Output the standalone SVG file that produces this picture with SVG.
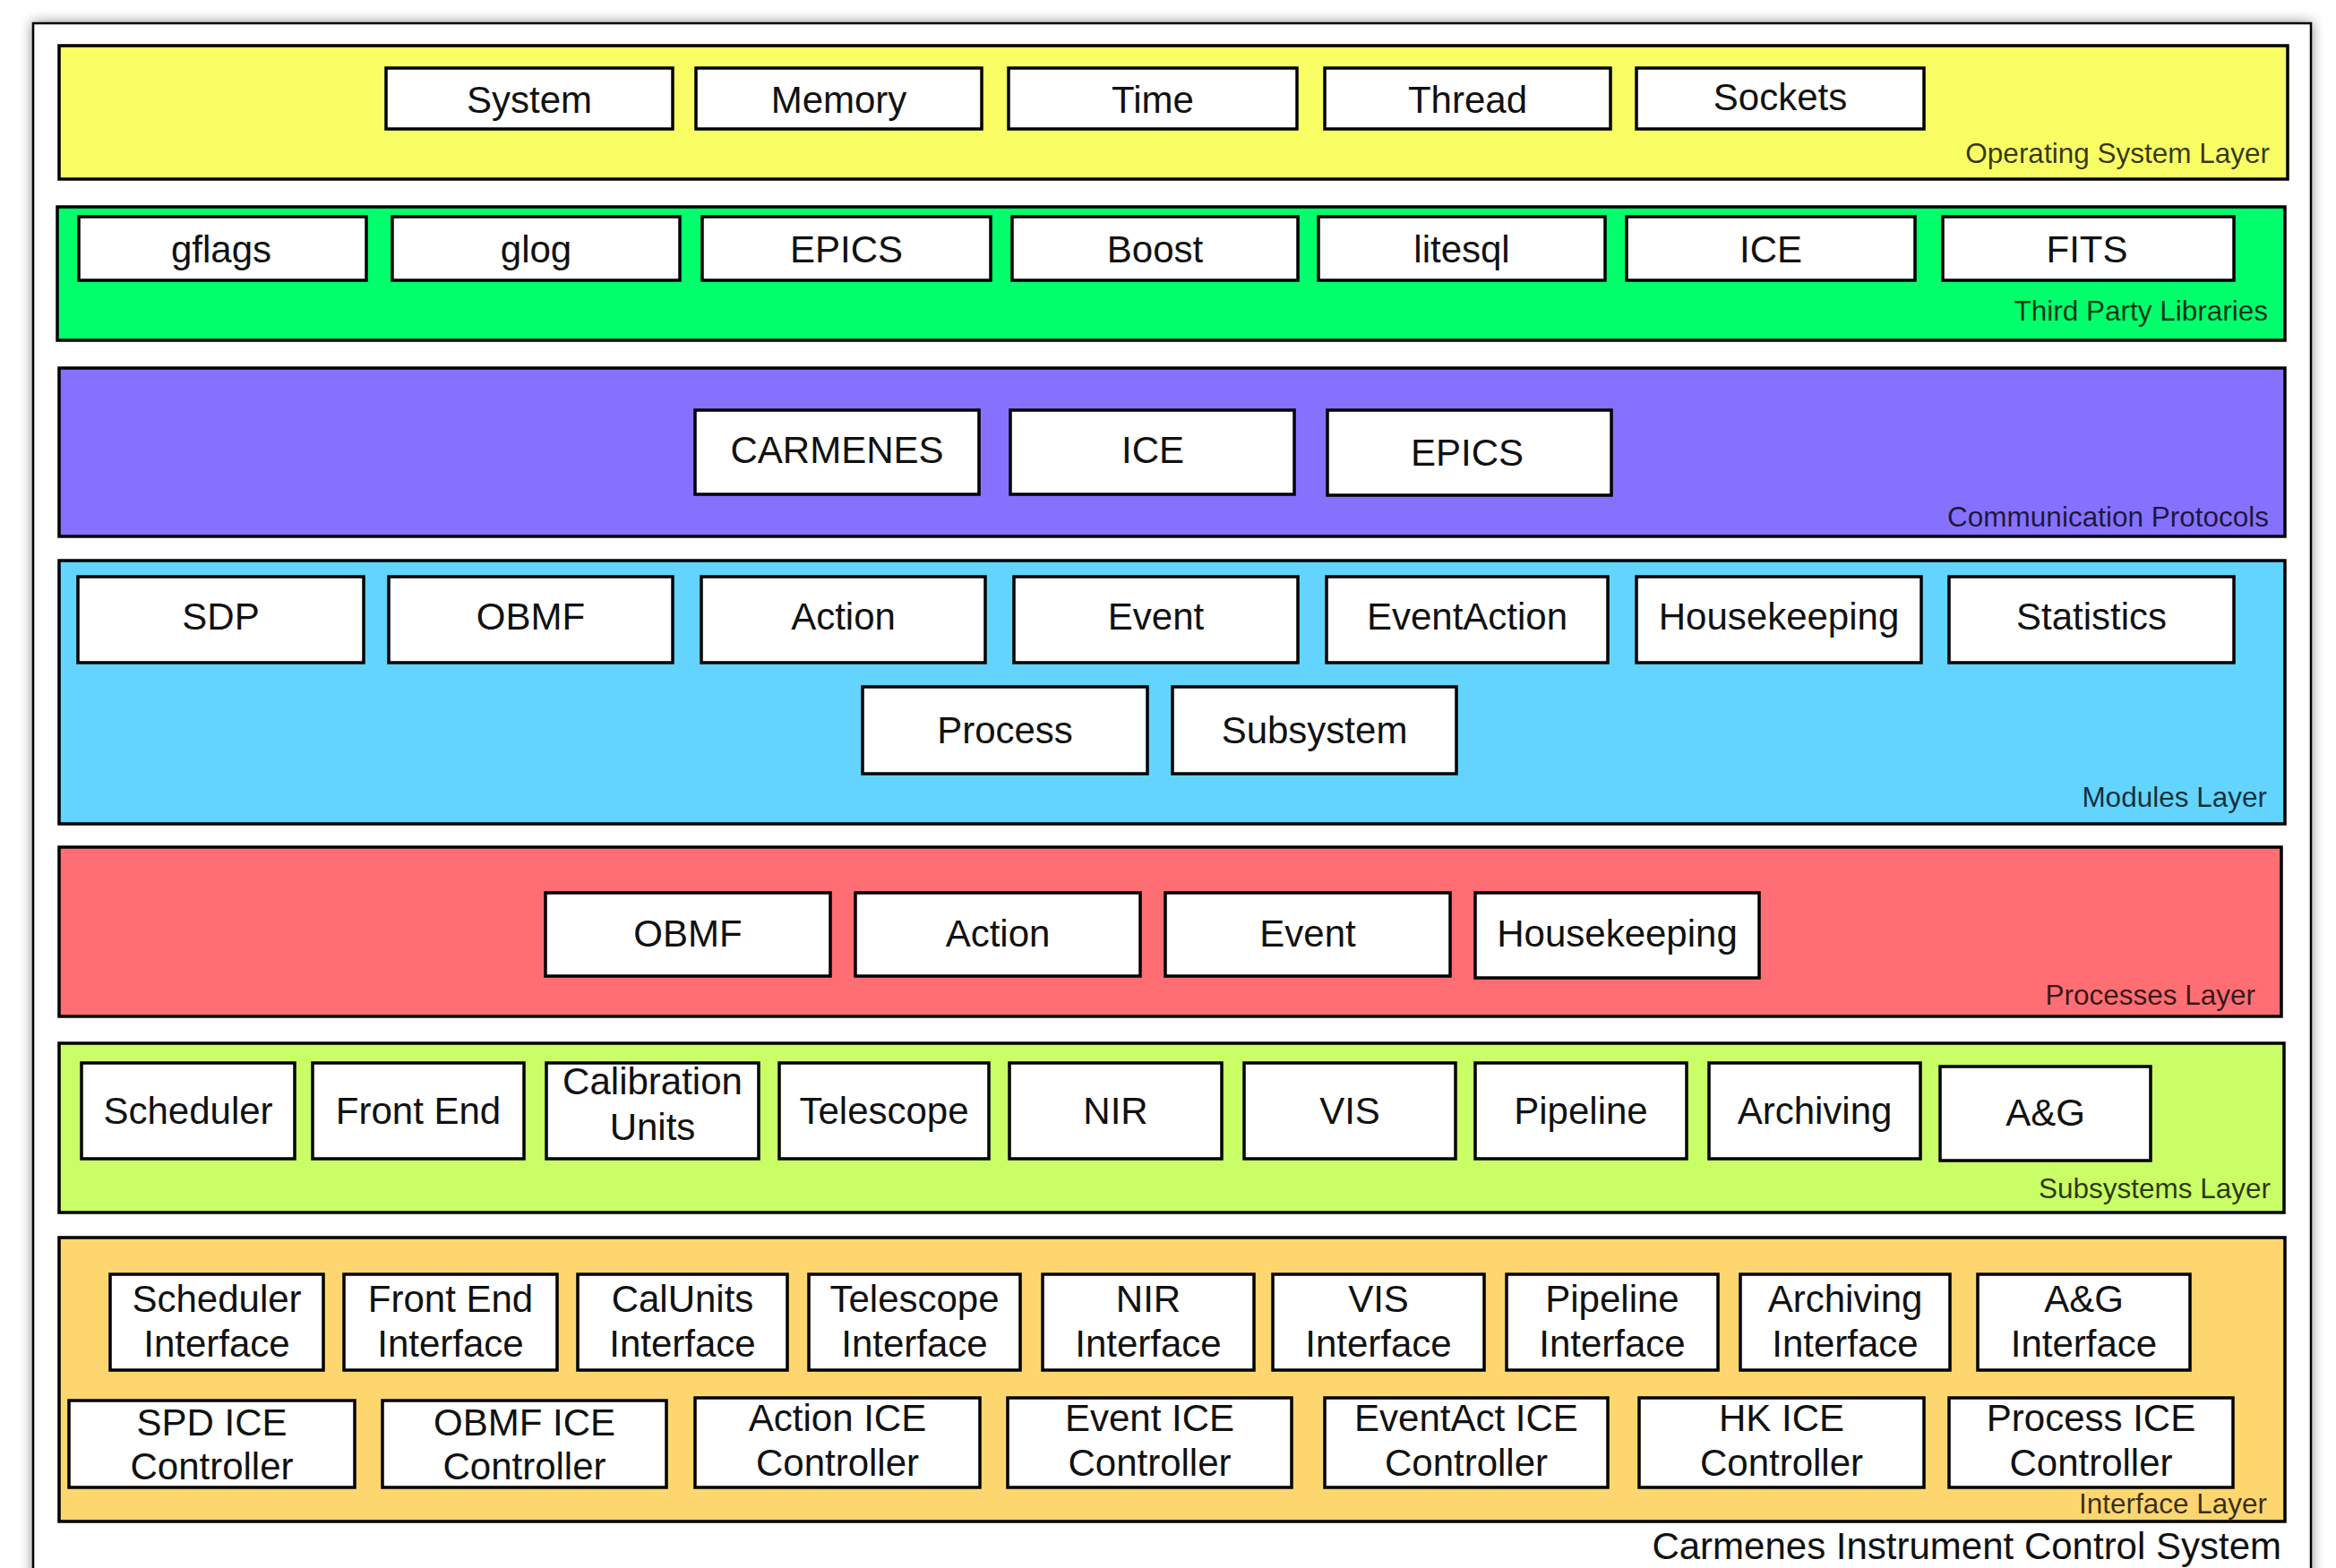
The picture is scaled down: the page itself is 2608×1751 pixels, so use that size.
<svg xmlns="http://www.w3.org/2000/svg" width="2608" height="1751" viewBox="0 0 2608 1751">
<defs>
<filter id="shadow" x="-5%" y="-5%" width="110%" height="110%">
<feDropShadow dx="0" dy="0" stdDeviation="7" flood-color="#000" flood-opacity="0.45"/>
</filter>
<style>
.layer{stroke:#000;stroke-width:3.5}
.box{fill:#fff;stroke:#000;stroke-width:3.5}
.t{font-family:"Liberation Sans",Arial,sans-serif;font-size:42px;text-anchor:middle;fill:#111}
.lbl{font-family:"Liberation Sans",Arial,sans-serif;font-size:31.5px;text-anchor:end;fill:#000;fill-opacity:0.78}
.title{font-family:"Liberation Sans",Arial,sans-serif;font-size:42px;text-anchor:end;fill:#111}
</style>
</defs>
<rect width="2608" height="1751" fill="#fff"/>
<rect x="37" y="26" width="2543" height="1800" fill="#fff" stroke="#000" stroke-width="2.5" filter="url(#shadow)"/>

<g id="layer-os">
<rect class="layer" x="66" y="51" width="2488" height="149" fill="#F8FE64"/>
<text class="lbl" x="2534" y="182">Operating System Layer</text>
</g>
<g id="layer-libs">
<rect class="layer" x="64" y="231" width="2487" height="149" fill="#02FF6C"/>
<text class="lbl" x="2532" y="358">Third Party Libraries</text>
</g>
<g id="layer-comm">
<rect class="layer" x="66" y="411" width="2485" height="188" fill="#8571FE"/>
<text class="lbl" x="2533" y="588">Communication Protocols</text>
</g>
<g id="layer-modules">
<rect class="layer" x="66" y="626" width="2485" height="294" fill="#62D4FE"/>
<text class="lbl" x="2531" y="901">Modules Layer</text>
</g>
<g id="layer-processes">
<rect class="layer" x="66" y="946" width="2481" height="189" fill="#FE6E73"/>
<text class="lbl" x="2518" y="1122">Processes Layer</text>
</g>
<g id="layer-subsystems">
<rect class="layer" x="66" y="1165" width="2484" height="189" fill="#C9FE66"/>
<text class="lbl" x="2535" y="1338">Subsystems Layer</text>
</g>
<g id="layer-interface">
<rect class="layer" x="66" y="1382" width="2485" height="317" fill="#FED66F"/>
<text class="lbl" x="2531" y="1690">Interface Layer</text>
</g>

<g id="os-system"><rect class="box" x="431" y="76" width="320" height="68"/><text class="t" x="591" y="126">System</text></g>
<g id="os-memory"><rect class="box" x="777" y="76" width="319" height="68"/><text class="t" x="936.5" y="126">Memory</text></g>
<g id="os-time"><rect class="box" x="1126" y="76" width="322" height="68"/><text class="t" x="1287" y="126">Time</text></g>
<g id="os-thread"><rect class="box" x="1479" y="76" width="319" height="68"/><text class="t" x="1638.5" y="126">Thread</text></g>
<g id="os-sockets"><rect class="box" x="1827" y="76" width="321" height="68"/><text class="t" x="1987.5" y="123">Sockets</text></g>

<g id="lib-gflags"><rect class="box" x="88" y="242" width="321" height="71"/><text class="t" x="247" y="293">gflags</text></g>
<g id="lib-glog"><rect class="box" x="438" y="242" width="321" height="71"/><text class="t" x="598.5" y="293">glog</text></g>
<g id="lib-epics"><rect class="box" x="784" y="242" width="322" height="71"/><text class="t" x="945" y="293">EPICS</text></g>
<g id="lib-boost"><rect class="box" x="1130" y="242" width="319" height="71"/><text class="t" x="1289.5" y="293">Boost</text></g>
<g id="lib-litesql"><rect class="box" x="1472" y="242" width="320" height="71"/><text class="t" x="1632" y="293">litesql</text></g>
<g id="lib-ice"><rect class="box" x="1816" y="242" width="322" height="71"/><text class="t" x="1977" y="293">ICE</text></g>
<g id="lib-fits"><rect class="box" x="2169" y="242" width="325" height="71"/><text class="t" x="2330" y="293">FITS</text></g>

<g id="comm-carmenes"><rect class="box" x="776" y="458" width="317" height="94"/><text class="t" x="934.5" y="517">CARMENES</text></g>
<g id="comm-ice"><rect class="box" x="1128" y="458" width="317" height="94"/><text class="t" x="1287" y="517">ICE</text></g>
<g id="comm-epics"><rect class="box" x="1482" y="458" width="317" height="95"/><text class="t" x="1638" y="520">EPICS</text></g>

<g id="mod-sdp"><rect class="box" x="87" y="644" width="319" height="96"/><text class="t" x="246.5" y="703">SDP</text></g>
<g id="mod-obmf"><rect class="box" x="434" y="644" width="317" height="96"/><text class="t" x="592.5" y="703">OBMF</text></g>
<g id="mod-action"><rect class="box" x="783" y="644" width="317" height="96"/><text class="t" x="941.5" y="703">Action</text></g>
<g id="mod-event"><rect class="box" x="1132" y="644" width="317" height="96"/><text class="t" x="1290.5" y="703">Event</text></g>
<g id="mod-eventaction"><rect class="box" x="1481" y="644" width="314" height="96"/><text class="t" x="1638" y="703">EventAction</text></g>
<g id="mod-housekeeping"><rect class="box" x="1827" y="644" width="318" height="96"/><text class="t" x="1986" y="703">Housekeeping</text></g>
<g id="mod-statistics"><rect class="box" x="2176" y="644" width="318" height="96"/><text class="t" x="2335" y="703">Statistics</text></g>
<g id="mod-process"><rect class="box" x="963" y="767" width="318" height="97"/><text class="t" x="1122" y="830">Process</text></g>
<g id="mod-subsystem"><rect class="box" x="1309" y="767" width="317" height="97"/><text class="t" x="1467.5" y="830">Subsystem</text></g>

<g id="proc-obmf"><rect class="box" x="609" y="997" width="318" height="93"/><text class="t" x="768" y="1057">OBMF</text></g>
<g id="proc-action"><rect class="box" x="955" y="997" width="318" height="93"/><text class="t" x="1114" y="1057">Action</text></g>
<g id="proc-event"><rect class="box" x="1301" y="997" width="318" height="93"/><text class="t" x="1460" y="1057">Event</text></g>
<g id="proc-housekeeping"><rect class="box" x="1647" y="997" width="317" height="95"/><text class="t" x="1805.5" y="1057">Housekeeping</text></g>

<g id="sub-scheduler"><rect class="box" x="91" y="1187" width="238" height="107"/><text class="t" x="210" y="1255">Scheduler</text></g>
<g id="sub-frontend"><rect class="box" x="349" y="1187" width="236" height="107"/><text class="t" x="467" y="1255">Front End</text></g>
<g id="sub-calibration"><rect class="box" x="610" y="1187" width="237" height="107"/><text class="t" x="728.5" y="1222">Calibration</text><text class="t" x="728.5" y="1273">Units</text></g>
<g id="sub-telescope"><rect class="box" x="870" y="1187" width="234" height="107"/><text class="t" x="987" y="1255">Telescope</text></g>
<g id="sub-nir"><rect class="box" x="1127" y="1187" width="237" height="107"/><text class="t" x="1245.5" y="1255">NIR</text></g>
<g id="sub-vis"><rect class="box" x="1389" y="1187" width="236" height="107"/><text class="t" x="1507" y="1255">VIS</text></g>
<g id="sub-pipeline"><rect class="box" x="1647" y="1187" width="236" height="107"/><text class="t" x="1765" y="1255">Pipeline</text></g>
<g id="sub-archiving"><rect class="box" x="1908" y="1187" width="236" height="107"/><text class="t" x="2026" y="1255">Archiving</text></g>
<g id="sub-ag"><rect class="box" x="2166" y="1191" width="235" height="105"/><text class="t" x="2283.5" y="1257">A&amp;G</text></g>

<g id="if-scheduler"><rect class="box" x="123" y="1423" width="238" height="107"/><text class="t" x="242" y="1465">Scheduler</text><text class="t" x="242" y="1515">Interface</text></g>
<g id="if-frontend"><rect class="box" x="384" y="1423" width="238" height="107"/><text class="t" x="503" y="1465">Front End</text><text class="t" x="503" y="1515">Interface</text></g>
<g id="if-calunits"><rect class="box" x="645" y="1423" width="234" height="107"/><text class="t" x="762" y="1465">CalUnits</text><text class="t" x="762" y="1515">Interface</text></g>
<g id="if-telescope"><rect class="box" x="903" y="1423" width="236" height="107"/><text class="t" x="1021" y="1465">Telescope</text><text class="t" x="1021" y="1515">Interface</text></g>
<g id="if-nir"><rect class="box" x="1164" y="1423" width="236" height="107"/><text class="t" x="1282" y="1465">NIR</text><text class="t" x="1282" y="1515">Interface</text></g>
<g id="if-vis"><rect class="box" x="1421" y="1423" width="236" height="107"/><text class="t" x="1539" y="1465">VIS</text><text class="t" x="1539" y="1515">Interface</text></g>
<g id="if-pipeline"><rect class="box" x="1682" y="1423" width="236" height="107"/><text class="t" x="1800" y="1465">Pipeline</text><text class="t" x="1800" y="1515">Interface</text></g>
<g id="if-archiving"><rect class="box" x="1943" y="1423" width="234" height="107"/><text class="t" x="2060" y="1465">Archiving</text><text class="t" x="2060" y="1515">Interface</text></g>
<g id="if-ag"><rect class="box" x="2208" y="1423" width="237" height="107"/><text class="t" x="2326.5" y="1465">A&amp;G</text><text class="t" x="2326.5" y="1515">Interface</text></g>

<g id="ctl-spd"><rect class="box" x="77" y="1564" width="319" height="97"/><text class="t" x="236.5" y="1603">SPD ICE</text><text class="t" x="236.5" y="1652">Controller</text></g>
<g id="ctl-obmf"><rect class="box" x="427" y="1564" width="317" height="97"/><text class="t" x="585.5" y="1603">OBMF ICE</text><text class="t" x="585.5" y="1652">Controller</text></g>
<g id="ctl-action"><rect class="box" x="776" y="1561" width="318" height="100"/><text class="t" x="935" y="1598">Action ICE</text><text class="t" x="935" y="1648">Controller</text></g>
<g id="ctl-event"><rect class="box" x="1125" y="1561" width="317" height="100"/><text class="t" x="1283.5" y="1598">Event ICE</text><text class="t" x="1283.5" y="1648">Controller</text></g>
<g id="ctl-eventact"><rect class="box" x="1479" y="1561" width="316" height="100"/><text class="t" x="1637" y="1598">EventAct ICE</text><text class="t" x="1637" y="1648">Controller</text></g>
<g id="ctl-hk"><rect class="box" x="1830" y="1561" width="318" height="100"/><text class="t" x="1989" y="1598">HK ICE</text><text class="t" x="1989" y="1648">Controller</text></g>
<g id="ctl-process"><rect class="box" x="2176" y="1561" width="317" height="100"/><text class="t" x="2334.5" y="1598">Process ICE</text><text class="t" x="2334.5" y="1648">Controller</text></g>

<g id="connectors"/>

<text class="title" x="2547" y="1741">Carmenes Instrument Control System</text>
</svg>
